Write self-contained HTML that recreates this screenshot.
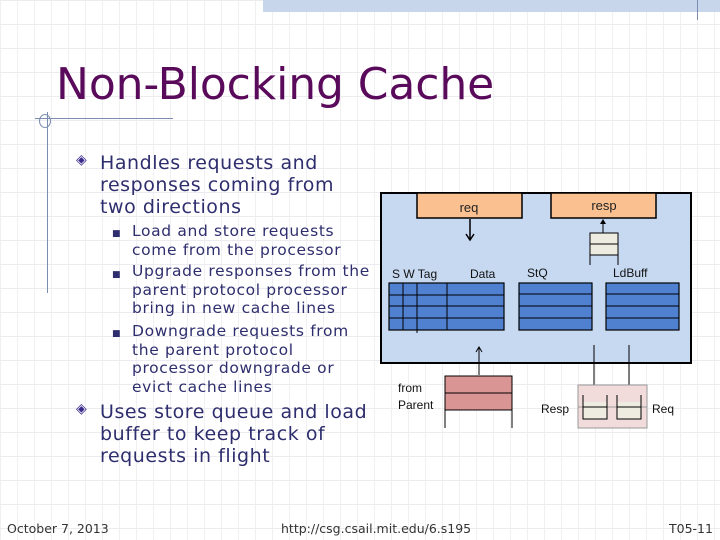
<!DOCTYPE html>
<html><head><meta charset="utf-8"><style>
*{margin:0;padding:0}
body{width:720px;height:540px;position:relative;overflow:hidden;background:#fff;
background-image:linear-gradient(#ebebf0 1px,transparent 1px),linear-gradient(90deg,#f0f0f3 1px,transparent 1px);
background-size:17px 24px;background-position:0 0;font-family:"DejaVu Sans","Liberation Sans",sans-serif;}
.t{position:absolute;white-space:nowrap;color:#2e2e6e}
.b{font-size:19px;line-height:22px;letter-spacing:0.55px}
.s{font-size:15.5px;line-height:18.5px;letter-spacing:0.65px}
.f{font-size:12.5px;color:#333;position:absolute;white-space:nowrap}
</style></head><body>
<div style="position:absolute;left:263px;top:0;width:457px;height:12px;background:#c8d6ec"></div>
<div style="position:absolute;left:697px;top:0;width:1px;height:20px;background:#7a8cb0"></div>
<div style="position:absolute;left:35px;top:118px;width:138px;height:1px;background:#7a8cb0"></div>
<div style="position:absolute;left:47px;top:112px;width:1px;height:181px;background:#7a8cb0"></div>
<div style="position:absolute;left:39px;top:114px;width:10px;height:12px;border:1px solid #7a8cb0;border-radius:50%"></div>
<div class="t" style="left:56px;top:59px;font-size:44px;color:#5a0a5a;line-height:52px;letter-spacing:-0.1px">Non-Blocking Cache</div>
<div class="t" style="left:76px;top:152px;font-size:14px;color:#3a2a8a">◈</div>
<div class="t b" style="left:100px;top:152px">Handles requests and<br>responses coming from<br>two directions</div>
<div class="t" style="left:112px;top:229px;font-size:9px">■</div>
<div class="t" style="left:112px;top:270px;font-size:9px">■</div>
<div class="t" style="left:112px;top:329px;font-size:9px">■</div>
<div class="t s" style="left:132px;top:222px">Load and store requests<br>come from the processor</div>
<div class="t s" style="left:132px;top:262px">Upgrade responses from the<br>parent protocol processor<br>bring in new cache lines</div>
<div class="t s" style="left:132px;top:322px">Downgrade requests from<br>the parent protocol<br>processor downgrade or<br>evict cache lines</div>
<div class="t" style="left:76px;top:401px;font-size:14px;color:#3a2a8a">◈</div>
<div class="t b" style="left:100px;top:401px">Uses store queue and load<br>buffer to keep track of<br>requests in flight</div>
<svg style="position:absolute;left:0;top:0" width="720" height="540" font-family="Liberation Sans, sans-serif">
<rect x="381" y="193" width="310" height="170" fill="#c6d9f1" stroke="#000" stroke-width="2"/>
<rect x="417" y="193" width="105" height="25" fill="#fac090" stroke="#000" stroke-width="1.5"/>
<rect x="551" y="193" width="105" height="25" fill="#fac090" stroke="#000" stroke-width="1.5"/>
<text x="469" y="212" font-size="13" text-anchor="middle" fill="#222">req</text>
<text x="604" y="210" font-size="13" text-anchor="middle" fill="#222">resp</text>
<line x1="470" y1="219" x2="470" y2="239" stroke="#000" stroke-width="1.5"/>
<path d="M466 234 L470 240 L474 234" fill="none" stroke="#000" stroke-width="1.5"/>
<rect x="590" y="233" width="28" height="22" fill="#eeece1"/>
<path d="M590 265 V233 H618 V265 M590 244 H618 M590 255 H618" fill="none" stroke="#000" stroke-width="1"/>
<line x1="603" y1="233" x2="603" y2="220" stroke="#000"/><path d="M600 224 L603 219 L606 224Z"/>
<text x="392" y="278" font-size="12" fill="#111">S  W  Tag</text>
<text x="470" y="278" font-size="12" fill="#111">Data</text>
<text x="527" y="277" font-size="12" fill="#111">StQ</text>
<text x="613" y="277" font-size="12" fill="#111">LdBuff</text>
<g fill="#4f81d0" stroke="#000" stroke-width="1.2">
<rect x="389" y="283" width="115" height="47"/><rect x="519" y="283" width="73" height="47"/><rect x="606" y="283" width="73" height="47"/>
</g>
<g stroke="#000" stroke-width="1">
<path d="M389 295H504M389 306H504M389 318H504M519 294H592M519 306H592M519 318H592M606 294H679M606 306H679M606 318H679"/>
<path d="M403 283V330M417 283V333M447 283V330"/>
<line x1="479" y1="375" x2="479" y2="348"/><path d="M476 352 L479 347 L482 352" fill="none"/>
<line x1="594" y1="345" x2="594" y2="405"/><path d="M591 400 L594 406 L597 400" fill="none"/>
<line x1="629" y1="345" x2="629" y2="405"/><path d="M626 400 L629 406 L632 400" fill="none"/>
</g>
<rect x="445" y="376" width="67" height="34" fill="#d99594"/>
<path d="M445 428V376H512V428M445 393H512M445 410H512" fill="none" stroke="#000" stroke-width="1"/>
<text x="398" y="392" font-size="12" fill="#111">from</text>
<text x="398" y="409" font-size="12" fill="#111">Parent</text>
<rect x="578" y="385" width="69" height="43" fill="#f2dcdb" stroke="#999" stroke-width="1"/>
<line x1="578" y1="407" x2="647" y2="407" stroke="#999"/>
<rect x="583" y="402" width="24" height="17" fill="#eeece1"/><rect x="617" y="402" width="24" height="17" fill="#eeece1"/>
<path d="M583 395V419H607V395M583 407H607M617 395V419H641V395M617 407H641" fill="none" stroke="#000"/>
<text x="541" y="413" font-size="12" fill="#111">Resp</text>
<text x="652" y="413" font-size="12" fill="#111">Req</text>
</svg>
<div class="f" style="left:7px;top:521px">October 7, 2013</div>
<div class="f" style="left:281px;top:521px">http://csg.csail.mit.edu/6.s195</div>
<div class="f" style="left:669px;top:521px">T05-11</div>
</body></html>
